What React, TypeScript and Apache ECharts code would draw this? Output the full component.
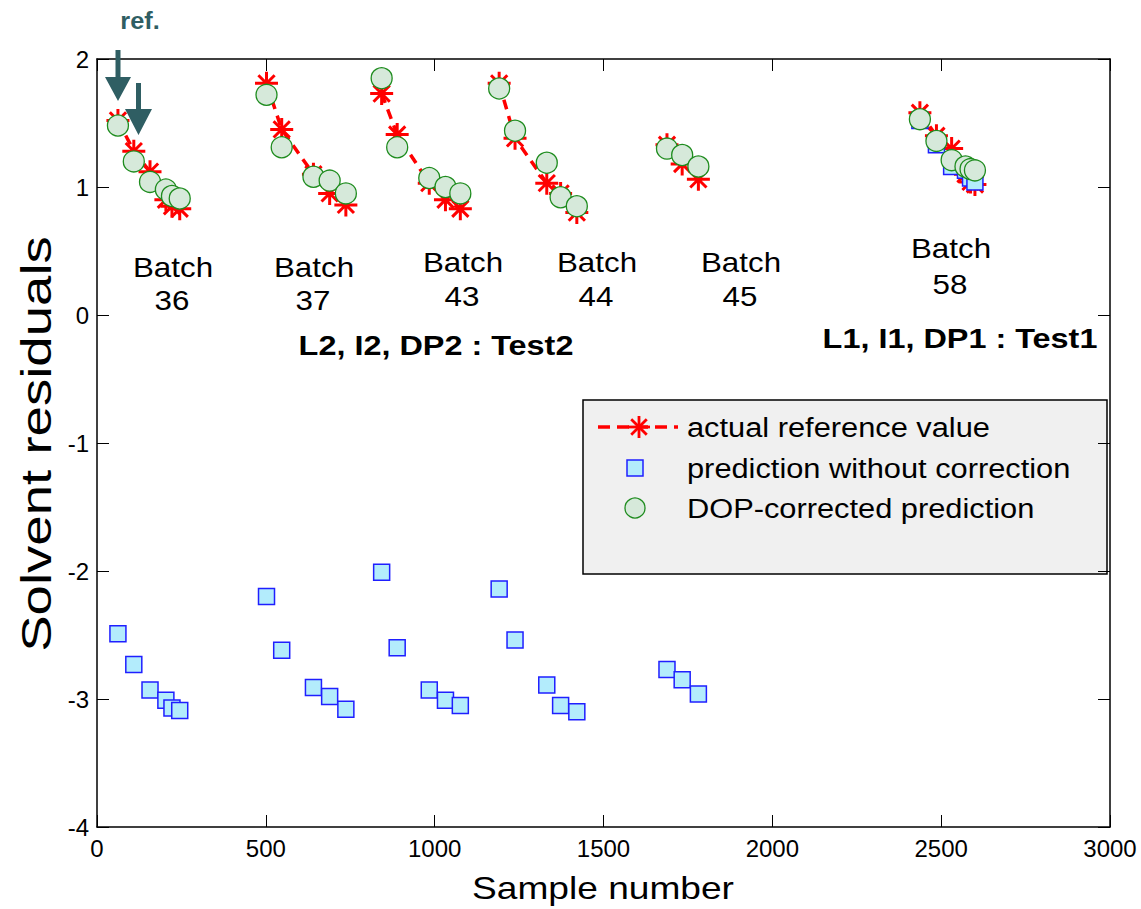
import React, { useEffect, useRef } from "react";
import * as echarts from "echarts";

// ---- data ----
const batchNames = ["36", "37", "43", "44", "45", "58"];
const sampleNumbers = [
  [62, 109, 157, 204, 222, 245],
  [502, 547, 641, 689, 737],
  [843, 889, 984, 1032, 1076],
  [1191, 1238, 1332, 1373, 1421],
  [1688, 1733, 1781],
  [2437, 2486, 2531, 2572, 2587, 2600],
];
const actualReference = [
  [1.52, 1.28, 1.12, 0.9, 0.85, 0.83],
  [1.81, 1.45, 1.1, 0.95, 0.86],
  [1.73, 1.41, 1.03, 0.9, 0.83],
  [1.81, 1.38, 1.03, 0.95, 0.8],
  [1.33, 1.18, 1.06],
  [1.58, 1.4, 1.3, 1.1, 1.04, 1.02],
];
const withoutCorrection = [
  [-2.49, -2.73, -2.93, -3.01, -3.07, -3.09],
  [-2.2, -2.62, -2.91, -2.98, -3.08],
  [-2.01, -2.6, -2.93, -3.01, -3.05],
  [-2.14, -2.54, -2.89, -3.05, -3.1],
  [-2.77, -2.85, -2.96],
  [1.52, 1.33, 1.16, 1.13, 1.07, 1.04],
];
const dopCorrected = [
  [1.48, 1.2, 1.04, 0.98, 0.93, 0.91],
  [1.72, 1.31, 1.08, 1.05, 0.95],
  [1.85, 1.31, 1.07, 1.0, 0.95],
  [1.77, 1.44, 1.19, 0.92, 0.85],
  [1.3, 1.25, 1.16],
  [1.53, 1.36, 1.21, 1.16, 1.14, 1.13],
];
const xTicks = { min: 0, max: 3000, interval: 500 };
const yTicks = { min: -4, max: 2, interval: 1 };
const legendNames = [
  "actual reference value",
  "prediction without correction",
  "DOP-corrected prediction",
];

const FONT = "Arial, Liberation Sans, Helvetica, sans-serif";
const TEAL = "#2f5e63";

const asterisk =
  "path://M-1.3,-10L1.3,-10L1.3,10L-1.3,10Z" +
  "M-10,-1.3L10,-1.3L10,1.3L-10,1.3Z" +
  "M6.152,-7.99L7.99,-6.152L-6.152,7.99L-7.99,6.152Z" +
  "M-7.99,-6.152L-6.152,-7.99L7.99,6.152L6.152,7.99Z";

function text(
  str: string,
  x: number,
  y: number,
  size: number,
  opts: { bold?: boolean; scaleX?: number; rotation?: number; fill?: string; align?: string } = {}
) {
  return {
    type: "text",
    x,
    y,
    scaleX: opts.scaleX ?? 1,
    rotation: opts.rotation ?? 0,
    z: 100,
    style: {
      text: str,
      fill: opts.fill ?? "#000",
      fontSize: size,
      fontFamily: FONT,
      fontWeight: opts.bold ? "bold" : "normal",
      textAlign: opts.align ?? "center",
      textVerticalAlign: "middle",
      align: opts.align ?? "center",
      verticalAlign: "middle",
    },
  };
}

export default function App() {
  const ref = useRef<HTMLDivElement>(null);
  useEffect(() => {
    if (!ref.current) return;
    const chart = echarts.init(ref.current, null, { renderer: "svg" });

    const lineData: any[] = [];
    const squareData: any[] = [];
    const circleData: any[] = [];
    sampleNumbers.forEach((xs, b) => {
      xs.forEach((x, i) => {
        lineData.push([x, actualReference[b][i]]);
        squareData.push([x, withoutCorrection[b][i]]);
        circleData.push([x, dopCorrected[b][i]]);
      });
      lineData.push([xs[xs.length - 1] + 1, "-"]);
    });

    const axisLine = { show: true, onZero: false, lineStyle: { color: "#000", width: 1.5 } };
    const axisTick = { show: true, inside: true, length: 12, lineStyle: { color: "#000", width: 1 } };
    const labelStyle = { color: "#000", fontSize: 24, fontFamily: FONT };

    const batchLabelPos = [
      [173, 267, 300],
      [314, 267, 300],
      [463, 262, 296],
      [597, 262, 296],
      [741, 262, 296],
      [951, 248, 284],
    ];
    const graphics: any[] = [];
    batchNames.forEach((n, i) => {
      const [cx, y1, y2] = batchLabelPos[i];
      graphics.push(text("Batch", cx, y1, 28, { scaleX: 1.12 }));
      graphics.push(text(n, cx - 1, y2, 28, { scaleX: 1.12 }));
    });
    graphics.push(text("L2, I2, DP2 : Test2", 436, 345, 27, { bold: true, scaleX: 1.2 }));
    graphics.push(text("L1, I1, DP1 : Test1", 960, 338, 27, { bold: true, scaleX: 1.2 }));
    graphics.push(text("ref.", 140, 21, 23, { bold: true, scaleX: 1.1, fill: TEAL }));
    graphics.push(text("Sample number", 603, 888, 32, { scaleX: 1.16 }));
    graphics.push(text("Solvent residuals", 36, 444, 42, { scaleX: 1.3, rotation: Math.PI / 2 }));
    // arrows
    graphics.push({
      type: "polygon",
      z: 90,
      shape: { points: [[115.5, 50], [120.5, 50], [120.5, 77], [131, 77], [118, 101], [105, 77], [115.5, 77]] },
      style: { fill: TEAL },
    });
    graphics.push({
      type: "polygon",
      z: 90,
      shape: { points: [[136, 83], [141, 83], [141, 109], [152, 109], [138.5, 135], [125, 109], [136, 109]] },
      style: { fill: TEAL },
    });
    // legend
    const lg: any[] = [];
    lg.push({
      type: "rect",
      shape: { x: 583, y: 400, width: 524, height: 174 },
      style: { fill: "#f0f0f0", stroke: "#000", lineWidth: 1.5 },
    });
    lg.push({
      type: "line",
      shape: { x1: 598, y1: 427, x2: 678, y2: 427 },
      style: { stroke: "#ff0000", lineWidth: 3.5, lineDash: [12, 7] },
    });
    for (let k = 0; k < 4; k++) {
      const a = (k * Math.PI) / 4;
      const r = 11;
      lg.push({
        type: "line",
        shape: { x1: 639 - r * Math.cos(a), y1: 427 - r * Math.sin(a), x2: 639 + r * Math.cos(a), y2: 427 + r * Math.sin(a) },
        style: { stroke: "#ff0000", lineWidth: 2.8 },
      });
    }
    lg.push({
      type: "rect",
      shape: { x: 627, y: 460, width: 16, height: 16 },
      style: { fill: "#b3ecfc", stroke: "#1f1fff", lineWidth: 1.5 },
    });
    lg.push({
      type: "circle",
      shape: { cx: 635, cy: 508, r: 10 },
      style: { fill: "#d6e9da", stroke: "#1e8c1e", lineWidth: 1.3 },
    });
    const legendY = [427, 468, 508];
    legendNames.forEach((n, i) => lg.push(text(n, 687, legendY[i], 28, { scaleX: 1.1, align: "left" })));
    graphics.push({ type: "group", z: 110, children: lg });

    chart.setOption({
      animation: false,
      grid: { left: 97, right: 31, top: 59, bottom: 82, containLabel: false },
      xAxis: [
        {
          type: "value",
          position: "bottom",
          ...xTicks,
          axisLine,
          axisTick,
          axisLabel: { ...labelStyle, margin: 9, formatter: (v: number) => String(v) },
          splitLine: { show: false },
        },
        {
          type: "value",
          position: "top",
          ...xTicks,
          axisLine,
          axisTick,
          axisLabel: { show: false },
          splitLine: { show: false },
        },
      ],
      yAxis: [
        {
          type: "value",
          position: "left",
          ...yTicks,
          axisLine,
          axisTick,
          axisLabel: { ...labelStyle, margin: 8, formatter: (v: number) => String(v) },
          splitLine: { show: false },
        },
        {
          type: "value",
          position: "right",
          ...yTicks,
          axisLine,
          axisTick,
          axisLabel: { show: false },
          splitLine: { show: false },
        },
      ],
      series: [
        {
          name: legendNames[0],
          type: "line",
          data: lineData,
          connectNulls: false,
          z: 2,
          symbol: asterisk,
          symbolSize: 23,
          symbolKeepAspect: true,
          showAllSymbol: true,
          itemStyle: { color: "#ff0000", borderWidth: 0 },
          lineStyle: { color: "#ff0000", width: 3.5, type: [10, 7] },
        },
        {
          name: legendNames[1],
          type: "scatter",
          data: squareData,
          z: 3,
          symbol: "rect",
          symbolSize: 16,
          itemStyle: { color: "#b3ecfc", borderColor: "#1f1fff", borderWidth: 1.5, opacity: 1 },
        },
        {
          name: legendNames[2],
          type: "scatter",
          data: circleData,
          z: 4,
          symbol: "circle",
          symbolSize: 21,
          itemStyle: { color: "#d6e9da", borderColor: "#1e8c1e", borderWidth: 1.3, opacity: 1 },
        },
      ],
      graphic: graphics,
    });
    return () => chart.dispose();
  }, []);
  return (
    <div
      ref={ref}
      style={{ position: "fixed", left: 0, top: 0, width: 1141, height: 909, background: "#fff" }}
    />
  );
}
